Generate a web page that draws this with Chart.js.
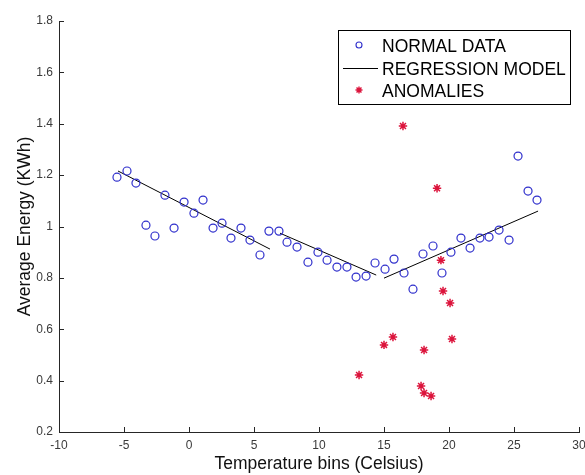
<!DOCTYPE html>
<html><head><meta charset="utf-8">
<script src="https://cdn.jsdelivr.net/npm/chart.js@4.4.1/dist/chart.umd.min.js"></script>
<style>html,body{margin:0;padding:0;background:#fff;}canvas{display:block;}</style>
</head><body>
<canvas id="c" width="585" height="475"></canvas>
<script>
const seriesNames = ['NORMAL DATA', 'REGRESSION MODEL', 'ANOMALIES'];
const normalX = [-5.54, -4.77, -4.08, -3.31, -2.62, -1.85, -1.15, -0.38, 0.38, 1.08, 1.85, 2.54, 3.23, 4.0, 4.69, 5.46, 6.15, 6.92, 7.54, 8.31,
  9.15, 9.92, 10.62, 11.38, 12.15, 12.85, 13.62, 14.31, 15.08, 15.77, 16.54, 17.23, 18.0, 18.77, 19.46, 20.15, 20.92, 21.62, 22.38, 23.08, 23.85, 24.62, 25.31, 26.08, 26.77];
const normalY = [1.192, 1.216, 1.169, 1.005, 0.963, 1.122, 0.994, 1.095, 1.052, 1.103, 0.994, 1.013, 0.955, 0.994, 0.947, 0.889, 0.982, 0.982, 0.939, 0.920,
  0.861, 0.900, 0.869, 0.842, 0.842, 0.803, 0.807, 0.858, 0.834, 0.873, 0.819, 0.756, 0.893, 0.924, 0.819, 0.900, 0.955, 0.916, 0.955, 0.959, 0.986, 0.947, 1.274, 1.138, 1.103];
const regX = [-5.46, 6.23, 6.6, 7.0, 14.4, 14.7, 15.0, 26.85];
const regY = [1.216, 0.912, null, 0.974, 0.811, null, 0.799, 1.060];
const anomX = [16.46, 19.08, 19.38, 19.54, 20.08, 15.69, 15.0, 18.08, 20.23, 13.08, 17.85, 18.08, 18.62];
const anomY = [1.391, 1.149, 0.869, 0.749, 0.702, 0.570, 0.539, 0.519, 0.562, 0.422, 0.379, 0.352, 0.340];
const xTickLabels = ['-10', '-5', '0', '5', '10', '15', '20', '25', '30'];
const yTickLabels = ['0.2', '0.4', '0.6', '0.8', '1', '1.2', '1.4', '1.6', '1.8'];
const xTitle = 'Temperature bins (Celsius)';
const yTitle = 'Average Energy (KWh)';

const FONT = 'Liberation Sans, Arial, Helvetica, sans-serif';
const BLUE = '#3030cc';
const RED = '#dc143c';
const AXIS = '#262626';

const pts = (xs, ys) => xs.map((x, i) => ({x: x, y: ys[i]}));

const inwardTicks = {
  id: 'inwardTicks',
  afterDraw(chart) {
    const ctx = chart.ctx, a = chart.chartArea;
    const xs = chart.scales.x, ys = chart.scales.y;
    ctx.save();
    ctx.strokeStyle = AXIS; ctx.lineWidth = 1;
    ctx.beginPath();
    xs.ticks.forEach(t => {
      const p = Math.round(xs.getPixelForValue(t.value)) + 0.5;
      ctx.moveTo(p, a.bottom); ctx.lineTo(p, a.bottom - 5);
    });
    ys.ticks.forEach(t => {
      const p = Math.round(ys.getPixelForValue(t.value)) + 0.5;
      ctx.moveTo(a.left, p); ctx.lineTo(a.left + 5, p);
    });
    ctx.stroke();
    ctx.restore();
  }
};

const boxLegend = {
  id: 'boxLegend',
  afterDraw(chart) {
    const ctx = chart.ctx;
    const bx = 338, by = 30, bw = 232, bh = 74;
    ctx.save();
    ctx.fillStyle = '#fff';
    ctx.fillRect(bx, by, bw, bh);
    ctx.strokeStyle = '#000'; ctx.lineWidth = 1;
    ctx.strokeRect(bx + 0.5, by + 0.5, bw, bh);
    const rows = [45, 68, 90];
    const mx = 359;
    ctx.strokeStyle = BLUE; ctx.lineWidth = 1.1;
    ctx.beginPath(); ctx.arc(mx, rows[0], 3, 0, Math.PI * 2); ctx.stroke();
    ctx.strokeStyle = '#000'; ctx.lineWidth = 1;
    ctx.beginPath(); ctx.moveTo(343, rows[1] + 0.5); ctx.lineTo(378, rows[1] + 0.5); ctx.stroke();
    ctx.strokeStyle = RED; ctx.lineWidth = 1.4;
    const r = 3.5, d = r * Math.SQRT1_2;
    ctx.beginPath();
    ctx.moveTo(mx - r, rows[2]); ctx.lineTo(mx + r, rows[2]);
    ctx.moveTo(mx, rows[2] - r); ctx.lineTo(mx, rows[2] + r);
    ctx.moveTo(mx - d, rows[2] - d); ctx.lineTo(mx + d, rows[2] + d);
    ctx.moveTo(mx - d, rows[2] + d); ctx.lineTo(mx + d, rows[2] - d);
    ctx.stroke();
    ctx.fillStyle = '#000';
    ctx.font = '17.5px ' + FONT;
    ctx.textBaseline = 'alphabetic';
    ctx.textAlign = 'left';
    const labels = chart.data.datasets.map(ds => ds.label);
    ctx.fillText(labels[0], 382, 52);
    ctx.fillText(labels[1], 382, 74.5);
    ctx.fillText(labels[2], 382, 96.5);
    ctx.restore();
  }
};

new Chart(document.getElementById('c'), {
  type: 'scatter',
  data: {
    datasets: [
      {
        label: seriesNames[0],
        data: pts(normalX, normalY),
        showLine: false,
        pointStyle: 'circle',
        pointRadius: 4,
        pointBorderColor: BLUE,
        pointBackgroundColor: 'rgba(0,0,0,0)',
        pointBorderWidth: 1.2,
        borderColor: BLUE,
        backgroundColor: 'rgba(0,0,0,0)'
      },
      {
        label: seriesNames[1],
        data: pts(regX, regY),
        showLine: true,
        spanGaps: false,
        pointRadius: 0,
        borderColor: '#000',
        borderWidth: 1,
        backgroundColor: 'rgba(0,0,0,0)'
      },
      {
        label: seriesNames[2],
        data: pts(anomX, anomY),
        showLine: false,
        pointStyle: 'star',
        pointRadius: 4.2,
        pointBorderColor: RED,
        pointBackgroundColor: RED,
        pointBorderWidth: 1.5,
        borderColor: RED,
        backgroundColor: RED
      }
    ]
  },
  options: {
    responsive: false,
    animation: false,
    events: [],
    layout: { padding: { left: 0, right: 6, top: 21, bottom: 0 } },
    plugins: { legend: { display: false }, tooltip: { enabled: false } },
    scales: {
      x: {
        type: 'linear', min: -10, max: 30,
        grid: { display: false, drawTicks: false },
        border: { display: true, color: AXIS, width: 1 },
        ticks: { stepSize: 5, padding: 6, color: '#3a3a3a', font: { family: FONT, size: 12 },
          maxRotation: 0, autoSkip: false,
          callback: (v, i) => xTickLabels[i] },
        title: { display: true, text: xTitle, color: '#111', font: { family: FONT, size: 17.5 }, padding: { top: 0, bottom: 0 } },
        afterFit(s) { s.height = 43; s.paddingLeft = 0; s.paddingRight = 0; }
      },
      y: {
        type: 'linear', min: 0.2, max: 1.8,
        grid: { display: false, drawTicks: false },
        border: { display: true, color: AXIS, width: 1 },
        ticks: { stepSize: 0.2, padding: 6, color: '#3a3a3a', font: { family: FONT, size: 12 },
          autoSkip: false,
          callback: (v, i) => yTickLabels[i] },
        title: { display: true, text: yTitle, color: '#111', font: { family: FONT, size: 17.5 }, padding: { top: 15, bottom: 0 } },
        afterFit(s) { s.width = 59; s.paddingTop = 0; s.paddingBottom = 0; }
      }
    }
  },
  plugins: [inwardTicks, boxLegend]
});
</script>
</body></html>
